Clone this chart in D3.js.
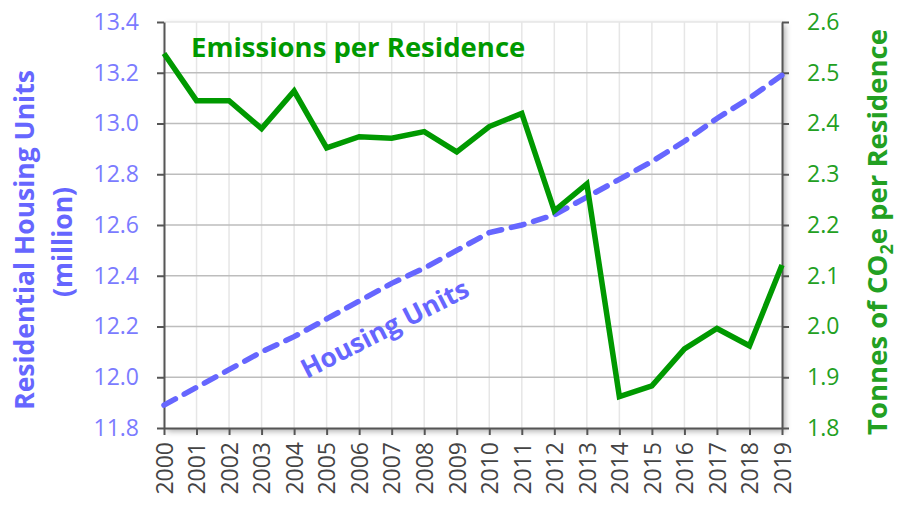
<!DOCTYPE html>
<html lang="en">
<head>
<script src="https://d3js.org/d3.v7.min.js"></script>
<style>
    body { margin: 0; background: #fff; }
    svg text { font-family: "Open Sans", Lato, sans-serif; }
</style>
</head>
<body>
<svg id="chart" width="898" height="506"></svg>
<script>
    const years = d3.range(2000, 2020);
    const housingUnits = [11.89, 11.96, 12.03, 12.10, 12.16, 12.23, 12.30, 12.37, 12.43, 12.50,
                          12.57, 12.60, 12.64, 12.71, 12.78, 12.85, 12.93, 13.02, 13.10, 13.19];
    const emissions = [2.538, 2.445, 2.445, 2.390, 2.464, 2.352, 2.374, 2.371, 2.384, 2.344,
                       2.394, 2.420, 2.228, 2.281, 1.862, 1.883, 1.956, 1.996, 1.962, 2.121];
    const leftTicks = [11.8, 12.0, 12.2, 12.4, 12.6, 12.8, 13.0, 13.2, 13.4];
    const rightTicks = [1.8, 1.9, 2.0, 2.1, 2.2, 2.3, 2.4, 2.5, 2.6];

    const blue = "#6666ff";
    const green = "#009900";
    const margin = {top: 22, right: 116, bottom: 78, left: 164};
    const width = 898, height = 506;

    const svg = d3.select("#chart");

    const x = d3.scaleLinear().domain([2000, 2019]).range([margin.left, width - margin.right]);
    const yL = d3.scaleLinear().domain([11.8, 13.4]).range([height - margin.bottom, margin.top]);
    const yR = d3.scaleLinear().domain([1.8, 2.6]).range([height - margin.bottom, margin.top]);

    // shadow behind plot area
    const defs = svg.append("defs");
    const f = defs.append("filter").attr("id", "shadow").attr("x", "-5%").attr("y", "-5%").attr("width", "115%").attr("height", "115%");
    f.append("feDropShadow").attr("dx", 3).attr("dy", 3).attr("stdDeviation", 3).attr("flood-color", "#000").attr("flood-opacity", 0.35);

    svg.append("rect")
        .attr("x", x(2000)).attr("y", yL(13.4))
        .attr("width", x(2019) - x(2000)).attr("height", yL(11.8) - yL(13.4))
        .attr("fill", "#fff")
        .attr("filter", "url(#shadow)");

    // vertical grid
    svg.append("g").selectAll("line")
        .data(years.slice(1, -1))
        .join("line")
        .attr("x1", d => x(d)).attr("x2", d => x(d))
        .attr("y1", yL(13.4)).attr("y2", yL(11.8))
        .attr("stroke", "#e6e6e6").attr("stroke-width", 1.5);

    // horizontal grid
    svg.append("g").selectAll("line")
        .data(leftTicks.slice(1))
        .join("line")
        .attr("x1", x(2000)).attr("x2", x(2019))
        .attr("y1", d => yL(d)).attr("y2", d => yL(d))
        .attr("stroke", d => d === 13.4 ? "#e6e6e6" : "#bdbdbd").attr("stroke-width", 1.5);

    // axes
    const axisColor = "#555";
    const gx = svg.append("g")
        .attr("transform", `translate(0,${yL(11.8)})`)
        .call(d3.axisBottom(x).tickValues(years).tickFormat(d3.format("d")).tickSize(7).tickSizeOuter(0));
    gx.selectAll("text")
        .attr("transform", "rotate(-90)")
        .attr("text-anchor", "end")
        .attr("x", -14).attr("y", 0).attr("dy", "0.36em")
        .attr("fill", "#444").style("font-size", "23px");

    const gl = svg.append("g")
        .attr("transform", `translate(${x(2000)},0)`)
        .call(d3.axisLeft(yL).tickValues(leftTicks).tickFormat(d3.format(".1f")).tickSize(7).tickSizeOuter(0).tickPadding(18));
    gl.selectAll("text").attr("fill", "#7b7bff").style("font-size", "23px");

    const gr = svg.append("g")
        .attr("transform", `translate(${x(2019)},0)`)
        .call(d3.axisRight(yR).tickValues(rightTicks).tickFormat(d3.format(".1f")).tickSize(7).tickSizeOuter(0).tickPadding(18));
    gr.selectAll("text").attr("fill", "#22a022").style("font-size", "23px");

    [gx, gl, gr].forEach(g => {
        g.select(".domain").attr("stroke", axisColor).attr("stroke-width", 2);
        g.selectAll(".tick line").attr("stroke", axisColor).attr("stroke-width", 2);
    });

    // housing units line
    svg.append("path")
        .datum(years.map((yr, i) => [yr, housingUnits[i]]))
        .attr("fill", "none")
        .attr("stroke", blue)
        .attr("stroke-width", 5.5)
        .attr("stroke-dasharray", "13,10")
        .attr("stroke-linecap", "round")
        .attr("d", d3.line().x(d => x(d[0])).y(d => yL(d[1])));

    // emissions line
    svg.append("path")
        .datum(years.map((yr, i) => [yr, emissions[i]]))
        .attr("fill", "none")
        .attr("stroke", green)
        .attr("stroke-width", 5.5)
        .attr("d", d3.line().x(d => x(d[0])).y(d => yR(d[1])));

    // labels in the plot
    svg.append("text")
        .attr("x", 191).attr("y", 57)
        .attr("fill", green)
        .style("font-size", "27.5px").style("font-weight", "bold")
        .text("Emissions per Residence");

    svg.append("text")
        .attr("transform", "translate(389,337) rotate(-27)")
        .attr("text-anchor", "middle")
        .attr("fill", blue)
        .style("font-size", "26.5px").style("font-weight", "bold")
        .text("Housing Units");

    // axis titles
    svg.append("text")
        .attr("transform", "translate(34,240) rotate(-90)")
        .attr("text-anchor", "middle")
        .attr("fill", blue)
        .style("font-size", "26.5px").style("font-weight", "bold")
        .text("Residential Housing Units");
    svg.append("text")
        .attr("transform", "translate(72,242) rotate(-90)")
        .attr("text-anchor", "middle")
        .attr("fill", blue)
        .style("font-size", "26.5px").style("font-weight", "bold")
        .text("(million)");

    const rt = svg.append("text")
        .attr("transform", "translate(887,232) rotate(-90)")
        .attr("text-anchor", "middle")
        .attr("fill", "#22a022")
        .style("font-size", "27.5px").style("font-weight", "bold");
    rt.append("tspan").text("Tonnes of CO");
    rt.append("tspan").attr("dy", 6).style("font-size", "18px").text("2");
    rt.append("tspan").attr("dy", -6).text("e per Residence");
</script>
</body>
</html>
